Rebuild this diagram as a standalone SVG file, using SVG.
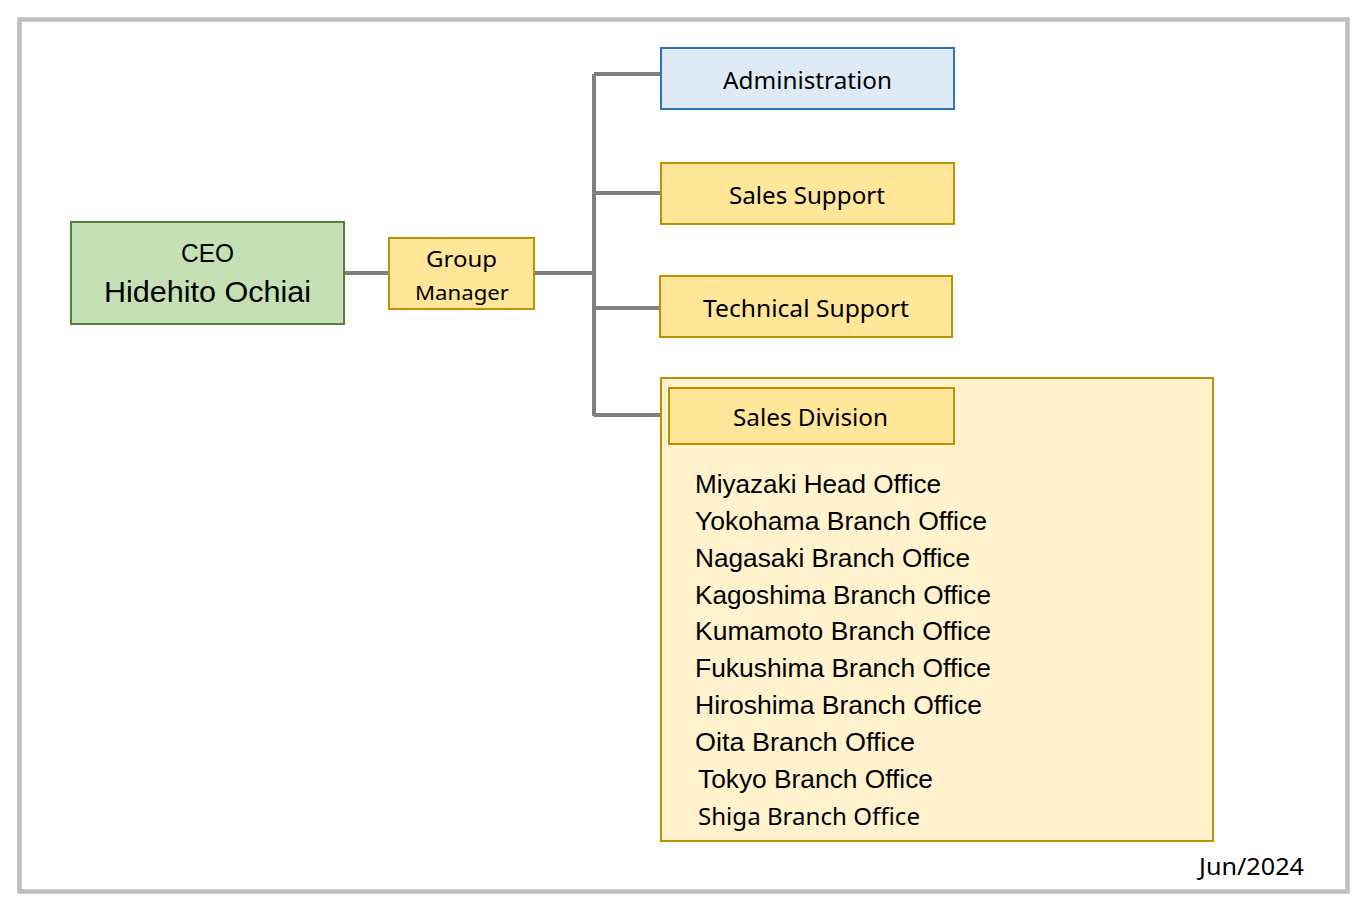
<svg xmlns="http://www.w3.org/2000/svg" width="1367" height="912" viewBox="0 0 1367 912">
<style>
.m{font-family:"Noto Sans","Open Sans",sans-serif;fill:#000}
.g{font-family:"Liberation Sans","Noto Sans CJK JP",sans-serif;fill:#000}
.y{fill:#ffe699;stroke:#bf9000;stroke-width:2}
.c{stroke:#7f7f7f;stroke-width:4;fill:none}
</style>
<rect width="1367" height="912" fill="#fff"/>
<rect x="19.5" y="19.5" width="1328" height="872" fill="#fff" stroke="#bfbfbf" stroke-width="4.5"/>
<g id="connectors">
<path class="c" d="M344 273H388M534 273H594M594 74V416M594 74H660M594 193H660M594 308H660M594 415H660"/>
</g>
<g id="ceo">
<rect x="71" y="222" width="273" height="102" fill="#c5e0b4" stroke="#538135" stroke-width="2"/>
<text class="g" x="207.5" y="262" font-size="25" text-anchor="middle" textLength="53" lengthAdjust="spacingAndGlyphs">CEO</text>
<text class="g" x="207.5" y="302" font-size="29" text-anchor="middle" textLength="207" lengthAdjust="spacingAndGlyphs">Hidehito Ochiai</text>
</g>
<g id="group-manager">
<rect class="y" x="389" y="238" width="145" height="71"/>
<text class="m" x="461.5" y="267" font-size="22" text-anchor="middle" textLength="71" lengthAdjust="spacingAndGlyphs">Group</text>
<text class="m" x="462" y="300" font-size="20" text-anchor="middle" textLength="94" lengthAdjust="spacingAndGlyphs">Manager</text>
</g>
<g id="administration">
<rect x="661" y="48" width="293" height="61" fill="#deebf7" stroke="#2e75b6" stroke-width="2"/>
<text class="m" x="807.5" y="89" font-size="23" text-anchor="middle" textLength="169" lengthAdjust="spacingAndGlyphs">Administration</text>
</g>
<g id="sales-support">
<rect class="y" x="661" y="163" width="293" height="61"/>
<text class="m" x="807" y="204" font-size="23" text-anchor="middle" textLength="156" lengthAdjust="spacingAndGlyphs">Sales Support</text>
</g>
<g id="technical-support">
<rect class="y" x="660" y="276" width="292" height="61"/>
<text class="m" x="806" y="317" font-size="23" text-anchor="middle" textLength="206" lengthAdjust="spacingAndGlyphs">Technical Support</text>
</g>
<g id="sales-division">
<rect x="661" y="378" width="552" height="463" fill="#fff2cc" stroke="#bf9000" stroke-width="2"/>
<rect class="y" x="669" y="388" width="285" height="56"/>
<text class="m" x="810.5" y="426" font-size="23" text-anchor="middle" textLength="155" lengthAdjust="spacingAndGlyphs">Sales Division</text>
<text class="g" x="695" y="493" font-size="25" textLength="246" lengthAdjust="spacingAndGlyphs">Miyazaki Head Office</text>
<text class="g" x="695" y="530" font-size="25" textLength="292" lengthAdjust="spacingAndGlyphs">Yokohama Branch Office</text>
<text class="g" x="695" y="567" font-size="25" textLength="275" lengthAdjust="spacingAndGlyphs">Nagasaki Branch Office</text>
<text class="g" x="695" y="604" font-size="25" textLength="296" lengthAdjust="spacingAndGlyphs">Kagoshima Branch Office</text>
<text class="g" x="695" y="640" font-size="25" textLength="296" lengthAdjust="spacingAndGlyphs">Kumamoto Branch Office</text>
<text class="g" x="695" y="677" font-size="25" textLength="296" lengthAdjust="spacingAndGlyphs">Fukushima Branch Office</text>
<text class="g" x="695" y="714" font-size="25" textLength="287" lengthAdjust="spacingAndGlyphs">Hiroshima Branch Office</text>
<text class="g" x="695" y="751" font-size="25" textLength="220" lengthAdjust="spacingAndGlyphs">Oita Branch Office</text>
<text class="g" x="698" y="788" font-size="25" textLength="235" lengthAdjust="spacingAndGlyphs">Tokyo Branch Office</text>
<text class="m" x="698" y="825" font-size="23" textLength="222" lengthAdjust="spacingAndGlyphs">Shiga Branch Office</text>
</g>
<text class="m" x="1199" y="875" font-size="23" textLength="105" lengthAdjust="spacingAndGlyphs">Jun/2024</text>
</svg>
